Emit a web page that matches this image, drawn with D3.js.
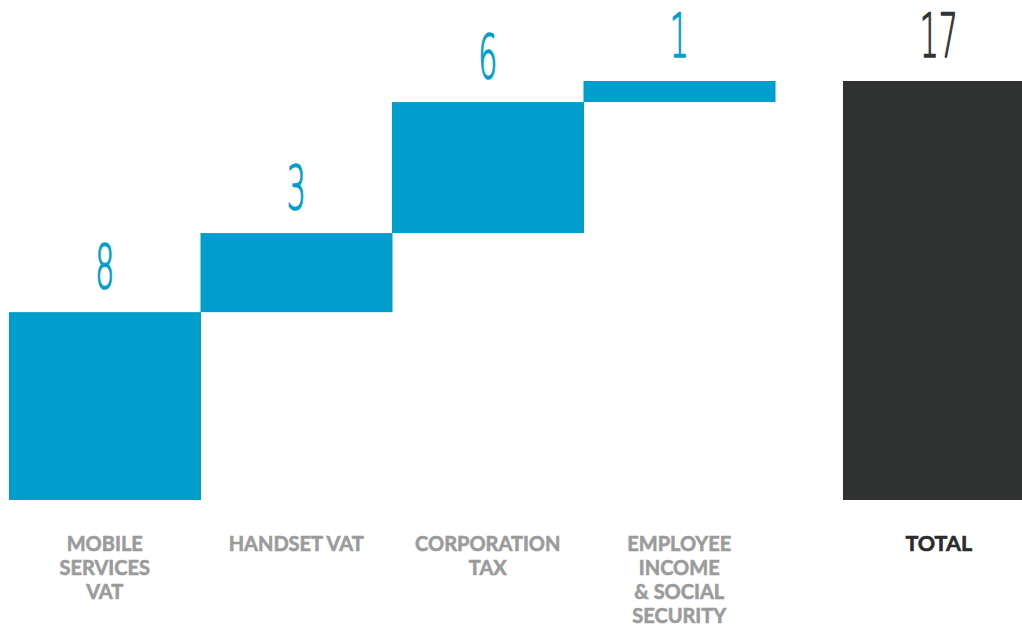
<!DOCTYPE html>
<html>
<head>
<meta charset="utf-8">
<script src="https://cdn.jsdelivr.net/npm/d3@7"></script>
<style>
  html, body { margin: 0; padding: 0; background: #fff; }
  svg { display: block; }
</style>
</head>
<body>
<script>
// Tax contribution components (waterfall) and the total
const categories = [
  ["MOBILE", "SERVICES", "VAT"],
  ["HANDSET VAT"],
  ["CORPORATION", "TAX"],
  ["EMPLOYEE", "INCOME", "& SOCIAL", "SECURITY"]
];
const values = [7.55, 3.38, 5.6, 0.9];
const totalLabel = ["TOTAL"];
const total = d3.sum(values);

const W = 1022, H = 625;
const blue = "#009ecc", dark = "#313333";

const svg = d3.select("body").append("svg")
  .attr("width", W).attr("height", H);

// value axis starts slightly below zero so the bars sit on a baseline band
const y = d3.scaleLinear().domain([-0.48, 17.43]).range([500, 81]);
const base = y.domain()[0];

const keys = categories.map((c, i) => "c" + i);
const x = d3.scaleBand().domain(keys).range([9, 775]).paddingInner(0);
const bw = x.bandwidth();
const totalX = x.range()[1] + 68;

// running sums for the waterfall steps
let run = 0;
const steps = values.map((v, i) => {
  const s = { key: keys[i], start: i === 0 ? base : run, end: run + v, v, lines: categories[i] };
  run += v;
  return s;
});

svg.append("g").selectAll("rect").data(steps).join("rect")
  .attr("x", d => x(d.key))
  .attr("width", bw + 0.5)
  .attr("y", d => y(d.end))
  .attr("height", d => y(d.start) - y(d.end))
  .attr("fill", blue);

svg.append("rect")
  .attr("x", totalX).attr("width", bw)
  .attr("y", y(total)).attr("height", y(base) - y(total))
  .attr("fill", dark);

// big value labels, condensed thin numerals
function valueLabel(cx, topY, text, color) {
  svg.append("text")
    .attr("transform", `translate(${cx},${topY - 24.5}) scale(0.5,1)`)
    .attr("text-anchor", "middle")
    .attr("font-family", "'DejaVu Sans', sans-serif")
    .attr("font-weight", 200)
    .attr("font-size", 60)
    .attr("fill", color)
    .attr("stroke", color)
    .attr("stroke-width", 1.6)
    .attr("stroke-linejoin", "round")
    .text(text);
}
steps.forEach(d => valueLabel(x(d.key) + bw / 2, y(d.end), d3.format(".0f")(d.v), blue));
valueLabel(totalX + bw / 2, y(total), d3.format(".0f")(total), dark);

// category labels
function catLabel(cx, lines, color, size) {
  const t = svg.append("text")
    .attr("text-anchor", "middle")
    .attr("font-family", "Lato, sans-serif")
    .attr("font-weight", 700)
    .attr("font-size", size)
    .attr("fill", color)
    .attr("stroke", color)
    .attr("stroke-width", 0.6);
  lines.forEach((l, i) => t.append("tspan").attr("x", cx).attr("y", 551 + i * 24).text(l));
}
steps.forEach(d => catLabel(x(d.key) + bw / 2, d.lines, "#9b9b9b", 20));
catLabel(totalX + bw / 2, totalLabel, "#2b2b2b", 21.5);
</script>
</body>
</html>
